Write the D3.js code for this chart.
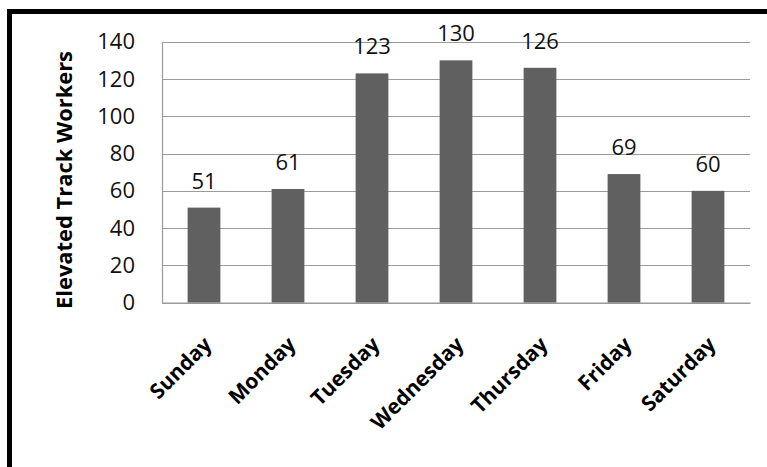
<!DOCTYPE html>
<html>
<head>
<meta charset="utf-8">
<script src="https://cdn.jsdelivr.net/npm/d3@7"></script>
<style>
  html, body { margin: 0; padding: 0; background: #ffffff; }
  svg { display: block; }
</style>
</head>
<body>
<svg id="chart" width="767" height="467"></svg>
<script>
// Weekly counts of elevated track workers
const days = ["Sunday", "Monday", "Tuesday", "Wednesday", "Thursday", "Friday", "Saturday"];
const workers = [51, 61, 123, 130, 126, 69, 60];
const yTicks = [0, 20, 40, 60, 80, 100, 120, 140];
const yTitle = "Elevated Track Workers";

const svg = d3.select("#chart");
const W = 767, H = 467;
const margin = { left: 162, right: 17, top: 41.7, bottom: 164.3 };
const font = "'Open Sans', 'Liberation Sans', sans-serif";

svg.append("rect").attr("width", W).attr("height", H).attr("fill", "#ffffff");

// Outer frame (runs off the right and bottom edges)
svg.append("rect")
  .attr("x", 9.5).attr("y", 11.5)
  .attr("width", W + 20).attr("height", H + 20)
  .attr("fill", "none").attr("stroke", "#000").attr("stroke-width", 5);

const x = d3.scaleBand()
  .domain(days)
  .range([margin.left, W - margin.right])
  .paddingInner(0.61).paddingOuter(0.305);

const y = d3.scaleLinear()
  .domain([0, 140])
  .range([H - margin.bottom, margin.top]);

// Horizontal gridlines
svg.append("g")
  .selectAll("line")
  .data(yTicks)
  .join("line")
  .attr("x1", margin.left).attr("x2", W - margin.right)
  .attr("y1", d => Math.round(y(d)) + 0.5).attr("y2", d => Math.round(y(d)) + 0.5)
  .attr("stroke", "#9a9a9a").attr("stroke-width", 1.2);

// Y axis
const yAxis = svg.append("g")
  .attr("transform", `translate(${margin.left},0)`)
  .call(d3.axisLeft(y).tickValues(yTicks).tickSize(0).tickPadding(27));
yAxis.select(".domain").attr("stroke", "#9a9a9a").attr("stroke-width", 1.2);
yAxis.selectAll("text")
  .attr("font-family", font).attr("font-size", 22).attr("fill", "#111");

// Bars
svg.append("g")
  .selectAll("rect")
  .data(days)
  .join("rect")
  .attr("x", d => x(d))
  .attr("width", x.bandwidth())
  .attr("y", (d, i) => y(workers[i]))
  .attr("height", (d, i) => y(0) - y(workers[i]))
  .attr("fill", "#606060");

// X axis
const xAxis = svg.append("g")
  .attr("transform", `translate(0,${y(0)})`)
  .call(d3.axisBottom(x).tickSize(0).tickPadding(0));
xAxis.select(".domain").attr("stroke", "#9a9a9a").attr("stroke-width", 1.2);
xAxis.selectAll("text")
  .attr("font-family", font).attr("font-size", 21).attr("font-weight", "bold").attr("fill", "#000")
  .attr("text-anchor", "end")
  .attr("dy", 0)
  .attr("transform", "translate(9,43) rotate(-45)");

// Value labels
svg.append("g")
  .selectAll("text")
  .data(days)
  .join("text")
  .attr("x", d => x(d) + x.bandwidth() / 2)
  .attr("y", (d, i) => y(workers[i]) - 19)
  .attr("text-anchor", "middle")
  .attr("font-family", font).attr("font-size", 22).attr("fill", "#111")
  .text((d, i) => workers[i]);

// Y axis title
svg.append("text")
  .attr("transform", "translate(72,180) rotate(-90)")
  .attr("text-anchor", "middle")
  .attr("font-family", font).attr("font-size", 21).attr("font-weight", "bold").attr("fill", "#000")
  .attr("textLength", 258).attr("lengthAdjust", "spacingAndGlyphs")
  .text(yTitle);
</script>
</body>
</html>
